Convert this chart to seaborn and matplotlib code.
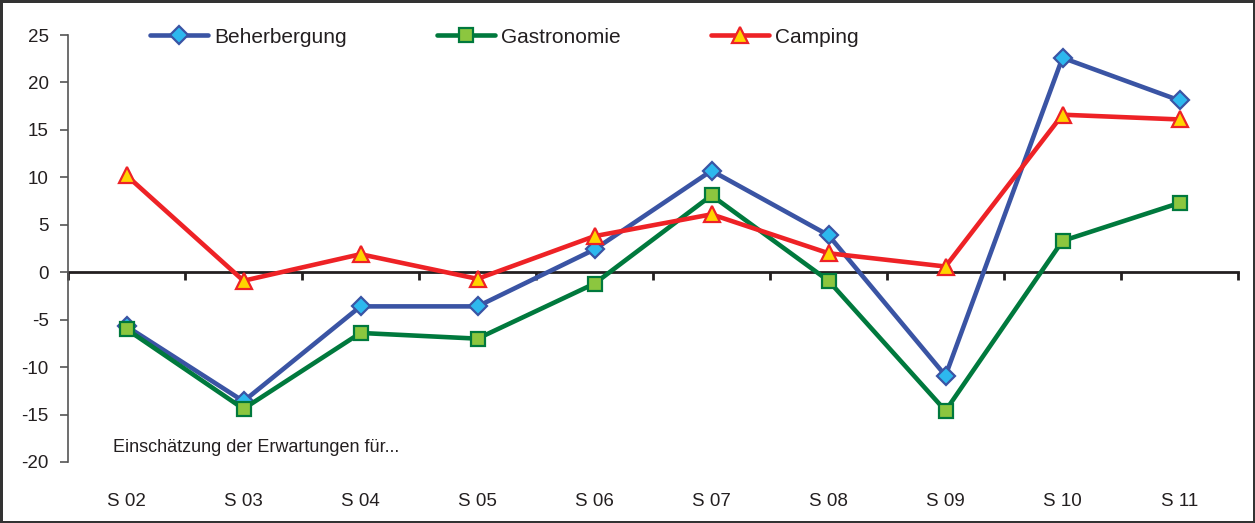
import matplotlib
matplotlib.use("Agg")
import matplotlib.pyplot as plt
import seaborn as sns
import pandas as pd

categories = ["S 02", "S 03", "S 04", "S 05", "S 06", "S 07", "S 08", "S 09", "S 10", "S 11"]
beherbergung = [-5.7, -13.6, -3.6, -3.6, 2.4, 10.7, 3.9, -10.9, 22.6, 18.1]
gastronomie = [-6.0, -14.4, -6.4, -7.0, -1.2, 8.1, -0.9, -14.6, 3.3, 7.3]
camping = [10.2, -0.9, 1.9, -0.7, 3.8, 6.1, 2.0, 0.6, 16.6, 16.1]
yticks = [-20, -15, -10, -5, 0, 5, 10, 15, 20, 25]
note = "Einschätzung der Erwartungen für..."

sns.set_theme(style="white")
plt.rcParams["font.family"] = ["Liberation Sans", "DejaVu Sans"]
plt.rcParams["axes.unicode_minus"] = False
txt = "#231F20"

fig = plt.figure(figsize=(12.55, 5.23), dpi=100)
fig.patch.set_facecolor("white")
fig.patch.set_edgecolor("#333333")
fig.patch.set_linewidth(2.5)
ax = fig.add_axes([68 / 1255, 1 - 462 / 523, (1238 - 68) / 1255, (462 - 35) / 523])

df = pd.DataFrame({"Saison": categories, "Beherbergung": beherbergung,
                   "Gastronomie": gastronomie, "Camping": camping})

styles = [
    ("Beherbergung", "#3A54A4", "D", "#2DB8EE", 9),
    ("Gastronomie", "#00793D", "s", "#8CC63F", 10),
    ("Camping", "#EE2226", "^", "#FFD400", 11),
]
for name, col, mk, fc, ms in styles:
    sns.lineplot(data=df, x="Saison", y=name, ax=ax, color=col, linewidth=3.3,
                 marker=mk, markersize=ms, markerfacecolor=fc,
                 markeredgecolor=col, markeredgewidth=1.6, label=name, zorder=3)

ax.set_xlim(-0.5, 9.5)
ax.set_ylim(-20, 25)
ax.set_yticks(yticks)
ax.set_xlabel("")
ax.set_ylabel("")
for s in ["top", "right", "bottom"]:
    ax.spines[s].set_visible(False)
ax.spines["left"].set_color("#555555")
ax.spines["left"].set_linewidth(1.2)
ax.tick_params(axis="y", direction="out", length=6, width=1.2, color="#555555",
               labelsize=13.5, labelcolor=txt, pad=8, left=True)
ax.tick_params(axis="x", length=0, labelsize=13.5, labelcolor=txt, pad=22)

# zero axis with category-boundary ticks
sec = ax.secondary_xaxis(20 / 45)
sec.set_xticks([i - 0.5 for i in range(len(categories) + 1)])
sec.tick_params(axis="x", direction="out", length=6, width=2, color="#231F20",
                labelbottom=False, labeltop=False, bottom=True, top=False)
sec.spines["bottom"].set_linewidth(2)
sec.spines["bottom"].set_color("#231F20")
for s in ["top", "left", "right"]:
    sec.spines[s].set_visible(False)

ax.text((113 - 68) / (1238 - 68), (462 - 447) / (462 - 35), note,
        transform=ax.transAxes, fontsize=13, color=txt, va="center", ha="left")

leg = ax.legend(ncol=3, frameon=False, loc="center left",
                bbox_to_anchor=((150 - 68) / (1238 - 68), 1 - (37 - 35) / (462 - 35)),
                handlelength=2.8, columnspacing=4.3, handletextpad=0.3,
                fontsize=15, borderaxespad=0, borderpad=0)
for t in leg.get_texts():
    t.set_color(txt)

fig.savefig("out.png", dpi=100, facecolor="white", edgecolor=fig.get_edgecolor())
